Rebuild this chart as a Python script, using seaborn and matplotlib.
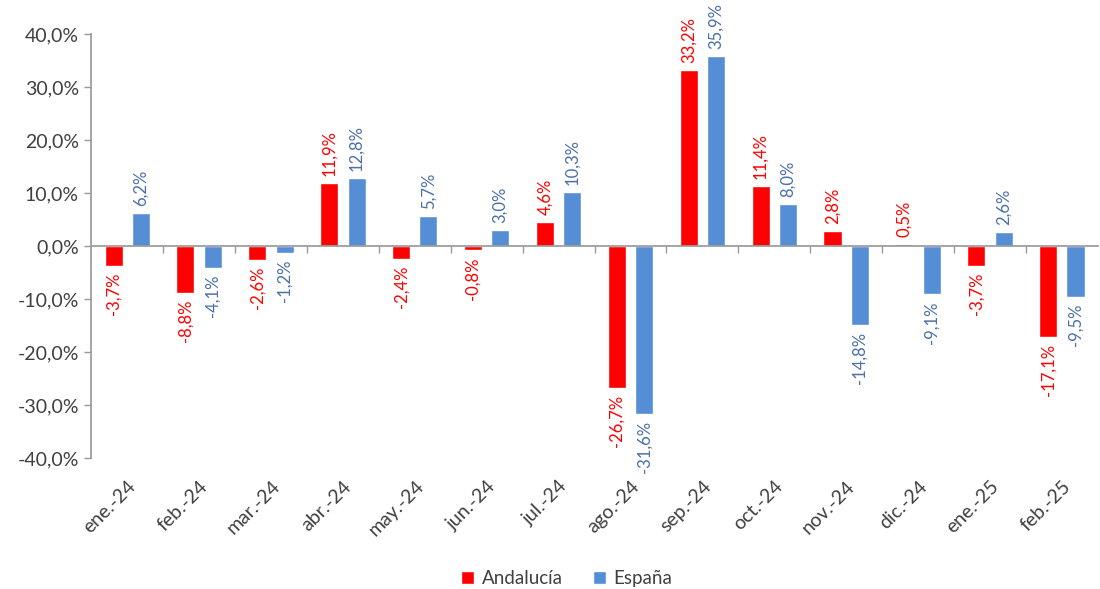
import matplotlib
matplotlib.use("Agg")
import matplotlib.pyplot as plt
import seaborn as sns
import pandas as pd
from matplotlib.ticker import FuncFormatter, FixedLocator

months = ["ene.-24", "feb.-24", "mar.-24", "abr.-24", "may.-24", "jun.-24", "jul.-24",
          "ago.-24", "sep.-24", "oct.-24", "nov.-24", "dic.-24", "ene.-25", "feb.-25"]
andalucia = [-3.7, -8.8, -2.6, 11.9, -2.4, -0.8, 4.6, -26.7, 33.2, 11.4, 2.8, 0.5, -3.7, -17.1]
espana = [6.2, -4.1, -1.2, 12.8, 5.7, 3.0, 10.3, -31.6, 35.9, 8.0, -14.8, -9.1, 2.6, -9.5]
series = ["Andalucía", "España"]

bar_colors = {"Andalucía": "#FF0000", "España": "#558ED5"}
label_colors = {"Andalucía": "#FF0000", "España": "#4A6FA8"}
text_grey = "#404040"

df = pd.DataFrame({
    "Mes": months * 2,
    "Serie": [series[0]] * len(months) + [series[1]] * len(months),
    "Valor": andalucia + espana,
})

sns.set_theme(style="white")
plt.rcParams["font.family"] = ["Lato", "DejaVu Sans"]

fig = plt.figure(figsize=(11, 5.89), dpi=100)
ax = fig.add_axes([0.083, 0.222, 0.915, 0.72])

sns.barplot(data=df, x="Mes", y="Valor", hue="Serie", order=months, hue_order=series,
            palette=bar_colors, width=0.76, gap=0.34, saturation=1, ax=ax, legend=True)

pct = lambda v: f"{v:.1f}%".replace(".", ",")
for cont, name in zip(ax.containers, series):
    ax.bar_label(cont, labels=[pct(v) for v in cont.datavalues], rotation=90,
                 padding=5, color=label_colors[name], fontsize=12)

ax.set_ylim(-40, 40)
ax.set_yticks(range(-40, 41, 10))
ax.yaxis.set_major_formatter(FuncFormatter(lambda v, p: pct(v)))
ax.tick_params(axis="y", labelsize=14, colors=text_grey, length=5, width=1,
               left=True, direction="out", color="#9a9a9a", pad=4)
ax.set_xlim(-0.5, len(months) - 0.5)
ax.set_xlabel("")
ax.set_ylabel("")

for s in ["top", "right"]:
    ax.spines[s].set_visible(False)
ax.spines["left"].set_color("#9a9a9a")
ax.spines["bottom"].set_position(("data", 0))
ax.spines["bottom"].set_color("#9a9a9a")
ax.xaxis.set_major_locator(FixedLocator([i + 0.5 for i in range(len(months) - 1)]))
ax.xaxis.set_major_formatter(FuncFormatter(lambda v, p: ""))
ax.tick_params(axis="x", bottom=True, length=5, width=1, color="#9a9a9a", direction="out")

sec = ax.secondary_xaxis("bottom")
sec.set_xticks(range(len(months)))
sec.set_xticklabels(months, rotation=45, ha="right", rotation_mode="anchor",
                    fontsize=14, color=text_grey)
sec.tick_params(length=0, pad=14)
sec.spines["bottom"].set_visible(False)

handles, labels = ax.get_legend_handles_labels()
ax.get_legend().remove()
fig.legend(handles, labels, loc="lower center", bbox_to_anchor=(0.515, -0.025), ncol=2,
           frameon=False, fontsize=13.5, handlelength=0.7, handleheight=0.7,
           handletextpad=0.4, columnspacing=1.6, labelcolor=text_grey)

fig.savefig("out.png", dpi=100)
